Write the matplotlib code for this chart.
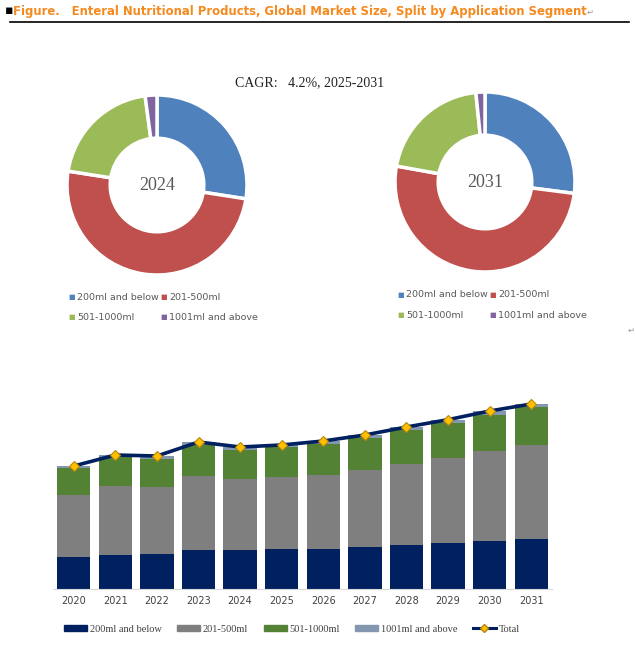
import matplotlib.pyplot as plt
from matplotlib.lines import Line2D
from matplotlib.patches import Patch

# data (arbitrary units)
years = ["2020", "2021", "2022", "2023", "2024", "2025", "2026", "2027", "2028", "2029", "2030", "2031"]
below_200 = [96, 103, 106, 117, 117, 120, 120, 126, 132, 138, 144, 150]
ml_201_500 = [186, 206, 200, 222, 213, 216, 222, 231, 243, 255, 270, 282]
ml_501_1000 = [82, 88, 85, 93, 87, 90, 93, 96, 102, 105, 108, 114]
above_1001 = [5, 5, 8, 9, 9, 6, 9, 9, 9, 10, 12, 9]

segments = ["200ml and below", "201-500ml", "501-1000ml", "1001ml and above"]
cagr_text = "CAGR:   4.2%, 2025-2031"
title = "Figure.   Enteral Nutritional Products, Global Market Size, Split by Application Segment"

W, H = 635, 646
fig = plt.figure(figsize=(W / 100, H / 100), dpi=100)


def px_axes(x0, y0, x1, y1):
    # pixel box (top-left origin) -> figure axes
    return fig.add_axes([x0 / W, 1 - y1 / H, (x1 - x0) / W, (y1 - y0) / H])


# --- header ---
fig.text(5 / W, 1 - 11 / H, "\u25aa", fontsize=9, color="black", va="center")
t = fig.text(13 / W, 1 - 11 / H, title, fontsize=10, fontweight="bold",
             color="#F58A1F", va="center", family="DejaVu Sans")
# shrink the title so it ends where the reference one does
renderer = fig.canvas.get_renderer()
tw = t.get_window_extent(renderer).width
t.set_fontsize(10 * 572 / tw)
fig.text(587 / W, 1 - 12 / H, "\u21b5", fontsize=6, color="#999999", va="center")
fig.add_artist(Line2D([10 / W, 629 / W], [1 - 22 / H, 1 - 22 / H], color="black", lw=1.2))

fig.text(310 / W, 1 - 83 / H, cagr_text, fontsize=10, family="Liberation Serif",
         ha="center", va="center", color="#222222")

# --- doughnuts ---
pie_colors = ["#4F81BD", "#C0504D", "#9BBB59", "#8064A2"]
for year, cx, cy, leg_x, leg_y in [("2024", 157, 185, 68, 297), ("2031", 485, 182, 397, 295)]:
    i = years.index(year)
    vals = [below_200[i], ml_201_500[i], ml_501_1000[i], above_1001[i]]
    r = 90
    ax = px_axes(cx - r, cy - r, cx + r, cy + r)
    ax.pie(vals, colors=pie_colors, startangle=90, counterclock=False, radius=1.0,
           wedgeprops=dict(width=0.48, edgecolor="white", linewidth=2.5))
    ax.set_xlim(-1, 1)
    ax.set_ylim(-1, 1)
    ax.set_aspect("equal")
    ax.axis("off")
    ax.text(0, 0, year, ha="center", va="center", fontsize=13,
            family="Liberation Serif", color="#595959")
    # legend under each doughnut, two rows
    pos = [(leg_x, leg_y), (leg_x + 92, leg_y), (leg_x, leg_y + 20), (leg_x + 92, leg_y + 20)]
    for (lx, ly), name, col in zip(pos, segments, pie_colors):
        fig.text(lx / W, 1 - ly / H, "\u25a0", color=col, fontsize=5, va="center")
        fig.text((lx + 9) / W, 1 - ly / H, name, color="#595959", fontsize=6.8,
                 va="center", family="DejaVu Sans")

fig.text(628 / W, 1 - 330 / H, "\u21b5", fontsize=6, color="#999999", va="center")

# --- stacked bars ---
bar_colors = ["#002060", "#7F7F7F", "#548235", "#8497B0"]
ax = px_axes(53, 395, 552, 589)
x = list(range(len(years)))
bottom = [0] * len(years)
for vals, col in zip([below_200, ml_201_500, ml_501_1000, above_1001], bar_colors):
    ax.bar(x, vals, width=0.8, bottom=bottom, color=col, zorder=2)
    bottom = [b + v for b, v in zip(bottom, vals)]
totals = bottom
ax.plot(x, totals, color="#002060", lw=2.6, zorder=3)
ax.plot(x, totals, ls="none", marker="D", ms=5.5, mfc="#FFC000", mec="#B8860B", mew=0.8, zorder=4)

ax.set_xlim(-0.5, 11.5)
ax.set_ylim(0, 582)
ax.set_xticks(x)
ax.set_xticklabels(years, fontsize=7, color="#404040")
ax.tick_params(axis="x", length=0, pad=5)
ax.set_yticks([])
for s in ["top", "right", "left"]:
    ax.spines[s].set_visible(False)
ax.spines["bottom"].set_color("#D9D9D9")

handles = [Patch(color=c) for c in bar_colors]
handles.append(Line2D([], [], color="#002060", lw=2.2, marker="D", ms=4,
                      mfc="#FFC000", mec="#B8860B"))
labels = segments + ["Total"]
fig.legend(handles, labels, loc="center", bbox_to_anchor=(292 / W, 1 - 629 / H), ncol=5,
           frameon=False, prop={"family": "Liberation Serif", "size": 7.5},
           handlelength=2.2, handleheight=0.6, handletextpad=0.25, columnspacing=1.5,
           labelcolor="#404040")

fig.savefig("out.png", dpi=100)
